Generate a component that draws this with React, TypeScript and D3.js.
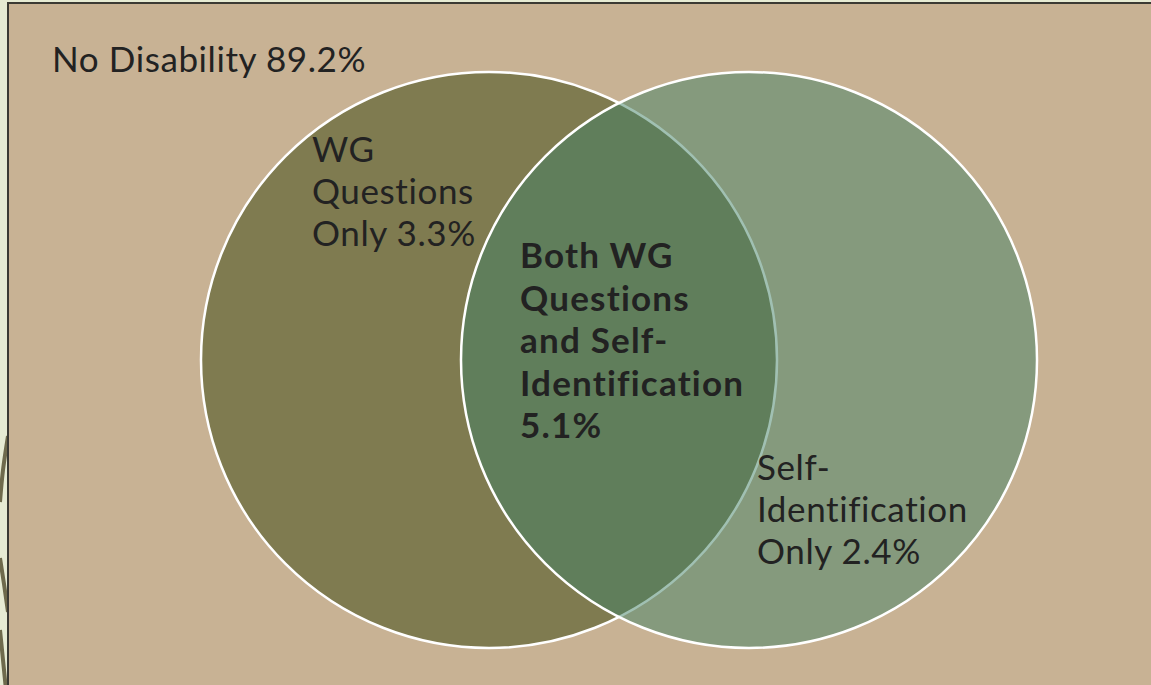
import * as d3 from "d3";

// venn sets and their shares (%)
const sets = ["WG Questions", "Self-Identification"];
const onlyValues = [3.3, 2.4];
const bothValue = 5.1;
const noneLabel = "No Disability";
const noneValue = 89.2;

// label lines, as on the slide
const onlyLines = [
  ["WG", "Questions", `Only ${onlyValues[0]}%`],
  ["Self-", "Identification", `Only ${onlyValues[1]}%`],
];
const bothLines = ["Both WG", "Questions", "and Self-", "Identification", `${bothValue}%`];

const W = 1151;
const H = 685;
const R = 288;
const CY = 360;
const FONT = "Lato, 'DejaVu Sans', sans-serif";
const FS = 35;
const LH = 42;

const txtStyle = { fontVariantLigatures: "none" as const, letterSpacing: "0.6px" };

export default function App() {
  // centre of each circle
  const xScale = d3.scalePoint<string>().domain(sets).range([489, 749]);
  const fills = ["#7F7B50", "rgb(66,130,102)"];
  const opac = [1, 0.5];

  // decorative swooshes left of the slide panel
  const line = d3.line().curve(d3.curveNatural);
  const swooshes: [number, number][][] = [
    [[8, 436], [3, 470], [0, 502]],
    [[0, 558], [4, 584], [8, 612]],
    [[0, 630], [3, 660], [6, 690]],
  ];

  // label anchors relative to circle centres
  const cx0 = xScale(sets[0])!;
  const cx1 = xScale(sets[1])!;
  const labelPos = [
    { x: cx0 - 177, y: 162 },
    { x: cx1 + 8, y: 480 },
  ];
  const bothPos = { x: (cx0 + cx1) / 2 - 99, y: 268 };

  return (
    <svg
      width={W}
      height={H}
      style={{ position: "fixed", left: 0, top: 0, display: "block", background: "#E6EBD3" }}
    >
      {swooshes.map((s, i) => (
        <path key={i} d={line(s)!} fill="none" stroke="#6E6A4C" strokeWidth={4} />
      ))}
      <rect x={8} y={3} width={W} height={H} fill="#C8B294" stroke="#3B3A33" strokeWidth={2} />

      <text x={52} y={72} fontFamily={FONT} fontSize={FS} fill="#222" style={txtStyle}>
        {`${noneLabel} ${noneValue}%`}
      </text>

      {sets.map((s, i) => (
        <circle
          key={s}
          cx={xScale(s)}
          cy={CY}
          r={R}
          fill={fills[i]}
          fillOpacity={opac[i]}
          stroke="#fff"
          strokeWidth={2.5}
        />
      ))}

      {onlyLines.map((lines, i) => (
        <text key={i} fontFamily={FONT} fontSize={FS} fill="#222" style={txtStyle}>
          {lines.map((l, j) => (
            <tspan key={j} x={labelPos[i].x} y={labelPos[i].y + j * LH}>
              {l}
            </tspan>
          ))}
        </text>
      ))}

      <text
        fontFamily={FONT}
        fontSize={FS}
        fontWeight="bold"
        fill="#222"
        style={{ fontVariantLigatures: "none", letterSpacing: "1.2px" }}
      >
        {bothLines.map((l, j) => (
          <tspan key={j} x={bothPos.x} y={bothPos.y + j * 42.5}>
            {l}
          </tspan>
        ))}
      </text>
    </svg>
  );
}
